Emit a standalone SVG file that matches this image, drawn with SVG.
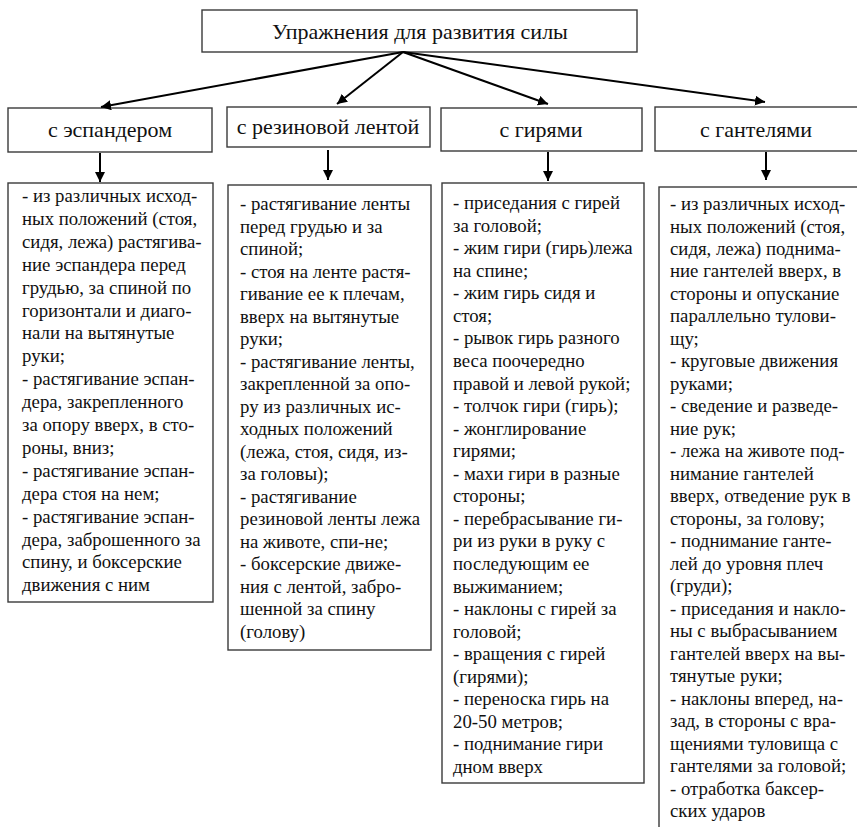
<svg xmlns="http://www.w3.org/2000/svg" width="857" height="827" viewBox="0 0 857 827">
  <defs>
    <marker id="arrow" viewBox="0 0 10 10" refX="10" refY="5" markerWidth="10" markerHeight="10" markerUnits="userSpaceOnUse" orient="auto">
      <path d="M0,0 L10,5 L0,10 Z" fill="#000"/>
    </marker>
  </defs>
  <rect width="857" height="827" fill="#fff"/>

  <!-- frames: shared look set on the group -->
  <g fill="#fff" stroke="#3a3a3a" stroke-width="1.4">
    <rect id="root-frame" x="202" y="10" width="435" height="42"/>
    <rect x="8" y="108" width="204" height="44"/>
    <rect x="227" y="107" width="203" height="40"/>
    <rect x="441" y="108" width="201" height="43"/>
    <rect x="655" y="107" width="215" height="44"/>
    <rect x="8" y="183" width="205" height="419"/>
    <rect x="228" y="185" width="203" height="465"/>
    <rect x="442" y="183" width="202" height="600"/>
    <rect x="659" y="187" width="215" height="660"/>
  </g>

  <g font-family="Liberation Serif" font-size="22" fill="#111" text-anchor="middle">
    <g id="root"><text x="420" y="39">Упражнения для развития силы</text></g>
    <g id="cat-expander"><text x="110" y="137">с эспандером</text></g>
    <g id="cat-band"><text x="328" y="134">с резиновой лентой</text></g>
    <g id="cat-kettlebell"><text x="541" y="137">с гирями</text></g>
    <g id="cat-dumbbell"><text x="756" y="137">с гантелями</text></g>
  </g>

  <g font-family="Liberation Serif" font-size="18.8" fill="#111">
  <g id="list-expander">
    <text x="22" y="202">- из различных исход-</text>
    <text x="22" y="224.9">ных положений (стоя,</text>
    <text x="22" y="247.8">сидя, лежа) растягива-</text>
    <text x="22" y="270.7">ние эспандера перед</text>
    <text x="22" y="293.6">грудью, за спиной по</text>
    <text x="22" y="316.5">горизонтали и диаго-</text>
    <text x="22" y="339.4">нали на вытянутые</text>
    <text x="22" y="362.3">руки;</text>
    <text x="22" y="385.2">- растягивание эспан-</text>
    <text x="22" y="408.1">дера, закрепленного</text>
    <text x="22" y="431">за опору вверх, в сто-</text>
    <text x="22" y="453.9">роны, вниз;</text>
    <text x="22" y="476.8">- растягивание эспан-</text>
    <text x="22" y="499.7">дера стоя на нем;</text>
    <text x="22" y="522.6">- растягивание эспан-</text>
    <text x="22" y="545.5">дера, заброшенного за</text>
    <text x="22" y="568.4">спину, и боксерские</text>
    <text x="22" y="591.3">движения с ним</text>
  </g>

  <g id="list-band">
    <text x="240" y="210">- растягивание ленты</text>
    <text x="240" y="232.5">перед грудью и за</text>
    <text x="240" y="255">спиной;</text>
    <text x="240" y="277.5">- стоя на ленте растя-</text>
    <text x="240" y="300">гивание ее к плечам,</text>
    <text x="240" y="322.5">вверх на вытянутые</text>
    <text x="240" y="345">руки;</text>
    <text x="240" y="367.5">- растягивание ленты,</text>
    <text x="240" y="390">закрепленной за опо-</text>
    <text x="240" y="412.5">ру из различных ис-</text>
    <text x="240" y="435">ходных положений</text>
    <text x="240" y="457.5">(лежа, стоя, сидя, из-</text>
    <text x="240" y="480">за головы);</text>
    <text x="240" y="502.5">- растягивание</text>
    <text x="240" y="525">резиновой ленты лежа</text>
    <text x="240" y="547.5">на животе, спи-не;</text>
    <text x="240" y="570">- боксерские движе-</text>
    <text x="240" y="592.5">ния с лентой, забро-</text>
    <text x="240" y="615">шенной за спину</text>
    <text x="240" y="637.5">(голову)</text>
  </g>

  <g id="list-kettlebell">
    <text x="453" y="209">- приседания с гирей</text>
    <text x="453" y="231.6">за головой;</text>
    <text x="453" y="254.1">- жим гири (гирь)лежа</text>
    <text x="453" y="276.7">на спине;</text>
    <text x="453" y="299.2">- жим гирь сидя и</text>
    <text x="453" y="321.8">стоя;</text>
    <text x="453" y="344.4">- рывок гирь разного</text>
    <text x="453" y="366.9">веса поочередно</text>
    <text x="453" y="389.5">правой и левой рукой;</text>
    <text x="453" y="412">- толчок гири (гирь);</text>
    <text x="453" y="434.6">- жонглирование</text>
    <text x="453" y="457.2">гирями;</text>
    <text x="453" y="479.7">- махи гири в разные</text>
    <text x="453" y="502.3">стороны;</text>
    <text x="453" y="524.8">- перебрасывание ги-</text>
    <text x="453" y="547.4">ри из руки в руку с</text>
    <text x="453" y="570">последующим ее</text>
    <text x="453" y="592.5">выжиманием;</text>
    <text x="453" y="615.1">- наклоны с гирей за</text>
    <text x="453" y="637.6">головой;</text>
    <text x="453" y="660.2">- вращения с гирей</text>
    <text x="453" y="682.8">(гирями);</text>
    <text x="453" y="705.3">- переноска гирь на</text>
    <text x="453" y="727.9">20-50 метров;</text>
    <text x="453" y="750.4">- поднимание гири</text>
    <text x="453" y="773">дном вверх</text>
  </g>

  <g id="list-dumbbell">
    <text x="670" y="210">- из различных исход-</text>
    <text x="670" y="232.5">ных положений (стоя,</text>
    <text x="670" y="255">сидя, лежа) поднима-</text>
    <text x="670" y="277.4">ние гантелей вверх, в</text>
    <text x="670" y="299.9">стороны и  опускание</text>
    <text x="670" y="322.4">параллельно тулови-</text>
    <text x="670" y="344.9">щу;</text>
    <text x="670" y="367.4">- круговые движения</text>
    <text x="670" y="389.8">руками;</text>
    <text x="670" y="412.3">- сведение и разведе-</text>
    <text x="670" y="434.8">ние рук;</text>
    <text x="670" y="457.3">- лежа на животе под-</text>
    <text x="670" y="479.8">нимание гантелей</text>
    <text x="670" y="502.2">вверх, отведение рук в</text>
    <text x="670" y="524.7">стороны, за голову;</text>
    <text x="670" y="547.2">- поднимание ганте-</text>
    <text x="670" y="569.7">лей до уровня плеч</text>
    <text x="670" y="592.2">(груди);</text>
    <text x="670" y="614.6">- приседания и накло-</text>
    <text x="670" y="637.1">ны с выбрасыванием</text>
    <text x="670" y="659.6">гантелей вверх на вы-</text>
    <text x="670" y="682.1">тянутые руки;</text>
    <text x="670" y="704.6">- наклоны вперед, на-</text>
    <text x="670" y="727">зад, в стороны с вра-</text>
    <text x="670" y="749.5">щениями туловища с</text>
    <text x="670" y="772">гантелями за головой;</text>
    <text x="670" y="794.5">- отработка баксер-</text>
    <text x="670" y="817">ских ударов</text>
  </g>
  </g>

  <g id="connectors" stroke="#000" stroke-width="2" fill="none" marker-end="url(#arrow)">
    <line x1="403" y1="52" x2="101" y2="107"/>
    <line x1="403" y1="52" x2="337" y2="104"/>
    <line x1="403" y1="52" x2="548" y2="104"/>
    <line x1="403" y1="52" x2="765" y2="102"/>
    <line x1="100" y1="153" x2="100" y2="182"/>
    <line x1="328" y1="150" x2="328" y2="180"/>
    <line x1="548" y1="152" x2="548" y2="181"/>
    <line x1="766" y1="152" x2="766" y2="180"/>
  </g>
</svg>
